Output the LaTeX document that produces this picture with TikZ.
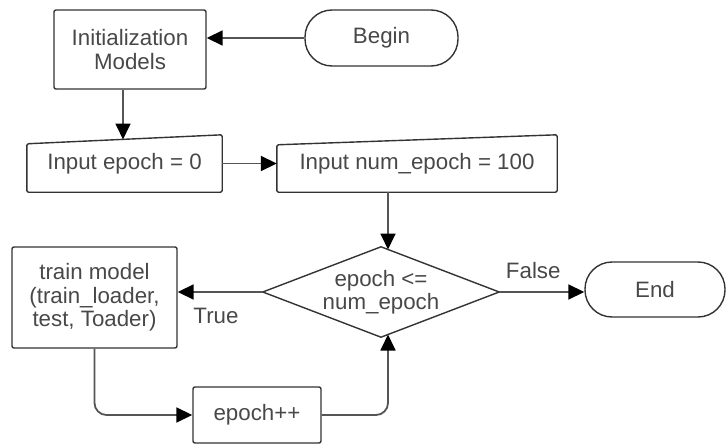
\documentclass[tikz,border=0pt]{standalone}
\usepackage{fontspec}
\setmainfont{Liberation Sans}
\usetikzlibrary{arrows.meta,calc}
\definecolor{txt}{HTML}{484848}
\definecolor{ln}{HTML}{555555}
\definecolor{bd}{HTML}{333333}
\begin{document}
\begin{tikzpicture}[x=1pt,y=-1pt,
  every node/.style={font=\fontsize{22.3}{23.5}\selectfont, text=txt, inner sep=0pt, align=center},
  proc/.style={draw=bd, line width=1.4pt, rounded corners=2pt},
  term/.style={draw=bd, line width=1.4pt, rounded corners=27pt},
  plain/.style={draw=none},
  outline/.style={draw=bd, line width=1.4pt, rounded corners=1.5pt},
  arr/.style={draw=ln, line width=1.8pt, -{Triangle[length=16pt,width=15pt,black]}},
  lbl/.style={font=\fontsize{22.3}{23.5}\selectfont, text=txt}]
\useasboundingbox (0,0) rectangle (726,444);
% nodes
\node[proc, minimum width=152pt, minimum height=79pt] (init) at (130,49.5) {Initialization\\Models};
\node[term, minimum width=153pt, minimum height=56pt] (begin) at (381.5,38) {Begin};
\node[plain, minimum width=195pt, minimum height=57pt] (ie) at (124.5,163.5) {\raisebox{-4pt}{Input epoch = 0}};
\node[plain, minimum width=280pt, minimum height=57pt] (num) at (417,163.5) {\raisebox{-4pt}{Input num\_epoch = 100}};
\node[plain, minimum width=236pt, minimum height=90pt] (dec) at (381,292) {epoch <=\\num\_epoch};
\node[term, minimum width=140pt, minimum height=55pt] (end) at (655,289.5) {End};
\node[proc, minimum width=165pt, minimum height=101pt] (train) at (94.5,297.5) {train model\\(train\_loader,\\test, Toader)};
\node[proc, minimum width=128pt, minimum height=56pt] (ep) at (257,415) {epoch++};
% shapes drawn by hand
\draw[outline] (ie.south west) -- (ie.south east) -- (ie.north east) -- ($(ie.north west)+(0,9)$) -- cycle;
\draw[outline] (num.south west) -- (num.south east) -- (num.north east) -- ($(num.north west)+(0,10)$) -- cycle;
\draw[draw=bd, line width=1.4pt] (dec.west) -- (dec.north) -- (dec.east) -- (dec.south) -- cycle;
% helper coordinates
\coordinate (ietop) at (123,139.5);
\coordinate (dectop) at (388,249.5);
\coordinate (decbot) at (388,334.5);
% connectors
\draw[arr] (begin.west) -- (begin.west -| init.east);
\draw[arr] (init.south -| ietop) -- (ietop);
\draw[arr] (ie.east) -- (num.west);
\draw[arr] (num.south -| dectop) -- (dectop);
\draw[arr] (dec.west) -- (dec.west -| train.east) node[lbl, pos=0.55, below=15pt] {True};
\draw[arr] (dec.east) -- (dec.east -| end.west) node[lbl, pos=0.4, above=12pt] {False};
\draw[arr, rounded corners=12pt] (train.south) |- (ep.west);
\draw[arr, rounded corners=12pt] (ep.east) -| (decbot);
\end{tikzpicture}
\end{document}
